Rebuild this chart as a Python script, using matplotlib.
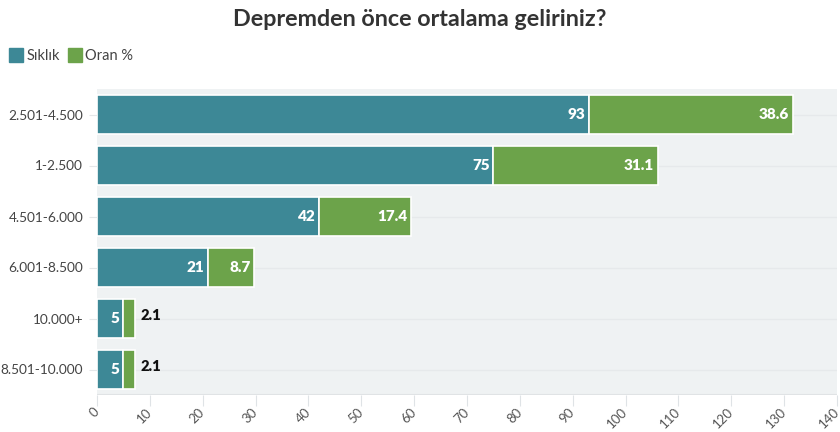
import matplotlib
matplotlib.use("Agg")
import matplotlib.pyplot as plt
from matplotlib.lines import Line2D

plt.rcParams['font.family'] = ['Lato', 'DejaVu Sans']

categories = ["2.501-4.500", "1-2.500", "4.501-6.000", "6.001-8.500", "10.000+", "8.501-10.000"]
siklik = [93, 75, 42, 21, 5, 5]
oran = [38.6, 31.1, 17.4, 8.7, 2.1, 2.1]
xticks = list(range(0, 141, 10))

teal = "#3d8896"
green = "#6ca34a"

fig = plt.figure(figsize=(8.4, 4.32), dpi=100)
ax = fig.add_axes([97/840, 1-395/432, 740/840, 306/432])
ax.set_facecolor("#eff2f3")

y = list(range(len(categories)))
h = 0.75
ax.barh(y, siklik, height=h, color=teal, edgecolor="white", linewidth=1.2, zorder=3)
ax.barh(y, oran, left=siklik, height=h, color=green, edgecolor="white", linewidth=1.2, zorder=3)

for yi, s, o in zip(y, siklik, oran):
    ax.text(s - 0.7, yi, f"{s}", ha="right", va="center", color="white",
            fontsize=11, fontweight="heavy", zorder=4)
    if o >= 5:
        ax.text(s + o - 0.7, yi, f"{o}", ha="right", va="center", color="white",
                fontsize=11, fontweight="heavy", zorder=4)
    else:
        ax.text(s + o + 1.2, yi - 0.05, f"{o}", ha="left", va="center", color="#111111",
                fontsize=10.5, fontweight="heavy", zorder=4)

ax.set_ylim(len(categories) - 0.5, -0.5)
ax.set_xlim(0, 140)
ax.set_yticks(y)
ax.set_yticklabels(categories, fontsize=9.8, color="#444444")
ax.set_xticks(xticks)
ax.set_xticklabels([str(t) for t in xticks], rotation=45, fontsize=9.5, color="#555555",
                   ha="right", va="center", rotation_mode="anchor")
ax.tick_params(axis="y", length=6, color="#e4e7e9", pad=4)
ax.tick_params(axis="x", length=8, color="#dfe3e6", pad=3)
ax.grid(axis="y", color="#e6e9eb", linewidth=1, zorder=1)
for sp in ax.spines.values():
    sp.set_visible(False)
ax.axhline(len(categories) - 0.5, color="#e0e3e5", linewidth=1.5, zorder=2)

fig.text(0.5, 0.955, "Depremden önce ortalama geliriniz?", ha="center", va="center",
         fontsize=16.8, fontweight="bold", color="#333333")

handles = [Line2D([], [], marker="s", linestyle="none", markersize=10, color=teal),
           Line2D([], [], marker="s", linestyle="none", markersize=10, color=green)]
fig.legend(handles, ["Sıklık", "Oran %"], loc="center left", bbox_to_anchor=(-0.003, 0.87),
           ncol=2, frameon=False, fontsize=10.5, handlelength=0.8, handletextpad=0.3,
           columnspacing=0.6, labelcolor="#444444")

fig.savefig("out.png", dpi=100)
